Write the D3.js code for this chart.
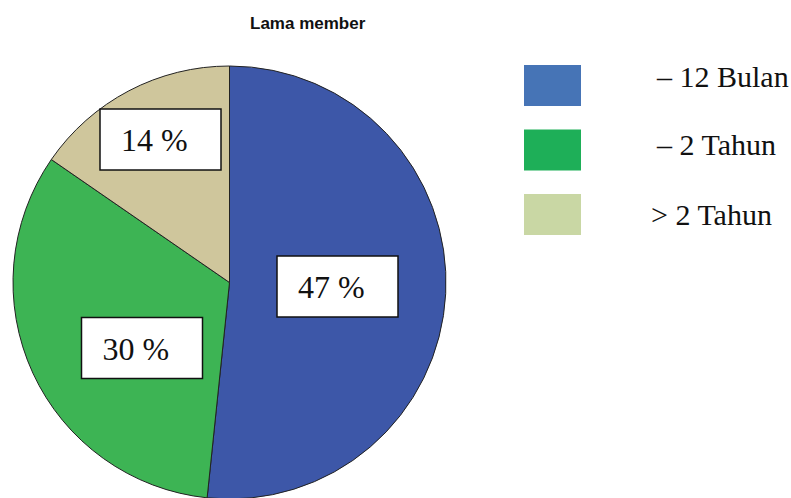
<!DOCTYPE html>
<html>
<head>
<meta charset="utf-8">
<script src="https://cdn.jsdelivr.net/npm/d3@7"></script>
<style>
  html, body { margin: 0; padding: 0; background: #ffffff; }
  svg { display: block; }
</style>
</head>
<body>
<svg id="chart" width="791" height="498"></svg>
<script>
// Membership duration shares (percent)
const categories = ["– 12 Bulan", "– 2 Tahun", "> 2 Tahun"];
const shares = [47, 30, 14];
const chartTitle = "Lama member";

// Styling
const sliceColors = ["#3d57a8", "#3db454", "#cfc69c"];
const swatchColors = ["#4674b6", "#1eaf58", "#c9d7a4"];
const serif = "'Liberation Serif', 'Times New Roman', serif";

// Layout
const pieCenter = [229.5, 282.5];
const pieRadius = 216.5;
const labelOffsets = [[108, 4], [-87.5, 65.5], [-69, -143]]; // label box centres, relative to pie centre
const labelBox = { w: 121, h: 61 };
const legendX = 524, legendTop = 65, legendStep = 64.5, swatch = { w: 57, h: 41 };
const legendTextX = [657, 657, 651];
const legendBaseline = [87, 155, 225];

const svg = d3.select("#chart");

svg.append("text")
  .attr("x", 250).attr("y", 29)
  .attr("font-family", "'Liberation Sans', Arial, sans-serif")
  .attr("font-weight", "bold")
  .attr("font-size", 17)
  .attr("fill", "#111")
  .text(chartTitle);

const data = categories.map((c, i) => ({ category: c, value: shares[i], i }));

const pie = d3.pie().value(d => d.value).sort(null);
const arc = d3.arc().innerRadius(0).outerRadius(pieRadius);
const color = d3.scaleOrdinal().domain(categories).range(sliceColors);

const g = svg.append("g").attr("transform", `translate(${pieCenter[0]},${pieCenter[1]})`);

g.selectAll("path.slice")
  .data(pie(data))
  .join("path")
  .attr("class", "slice")
  .attr("d", arc)
  .attr("fill", d => color(d.data.category))
  .attr("stroke", "#222")
  .attr("stroke-width", 1);

// Value labels in boxed callouts
const labels = g.selectAll("g.label")
  .data(pie(data))
  .join("g")
  .attr("class", "label")
  .attr("transform", d => `translate(${labelOffsets[d.data.i][0]},${labelOffsets[d.data.i][1]})`);

labels.append("rect")
  .attr("x", -labelBox.w / 2).attr("y", -labelBox.h / 2)
  .attr("width", labelBox.w).attr("height", labelBox.h)
  .attr("fill", "#ffffff")
  .attr("stroke", "#111")
  .attr("stroke-width", 1.5);

labels.append("text")
  .attr("x", -labelBox.w / 2 + 21)
  .attr("y", 11.5)
  .attr("font-family", serif)
  .attr("font-size", 32)
  .attr("fill", "#111")
  .text(d => `${d.data.value} %`);

// Legend
const legend = svg.append("g");
const rows = legend.selectAll("g.row")
  .data(categories)
  .join("g")
  .attr("class", "row");

rows.append("rect")
  .attr("x", legendX)
  .attr("y", (d, i) => legendTop + i * legendStep)
  .attr("width", swatch.w).attr("height", swatch.h)
  .attr("fill", (d, i) => swatchColors[i]);

rows.append("text")
  .attr("x", (d, i) => legendTextX[i])
  .attr("y", (d, i) => legendBaseline[i])
  .attr("font-family", serif)
  .attr("font-size", 30)
  .attr("fill", "#111")
  .text(d => d);
</script>
</body>
</html>
